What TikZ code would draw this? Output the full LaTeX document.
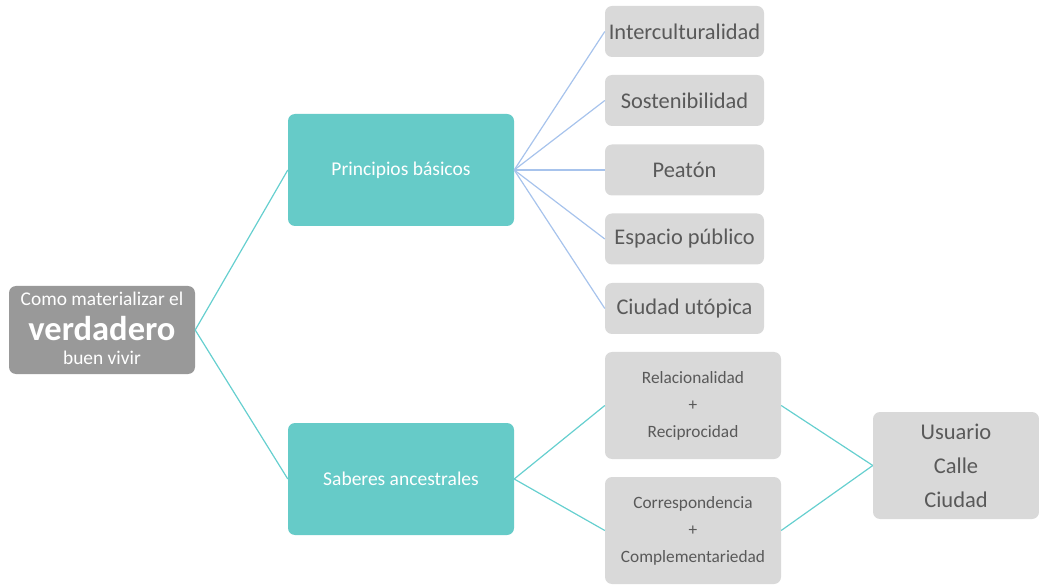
\documentclass[tikz,border=0pt]{standalone}
\usepackage{fontspec}
\setmainfont{Carlito}
\definecolor{teal1}{HTML}{66CBC8}
\definecolor{rootgray}{HTML}{999999}
\definecolor{boxgray}{HTML}{D9D9D9}
\definecolor{txtgray}{HTML}{595959}
\definecolor{blueline}{HTML}{A7C3EC}
\definecolor{tealline}{HTML}{66CFCF}
\tikzset{
  base/.style={rectangle, rounded corners=7pt, inner sep=0pt, align=center},
  rootbox/.style={base, fill=rootgray, minimum width=186pt, minimum height=88pt},
  roottext/.style={text=white, inner sep=0pt},
  midbox/.style={base, fill=teal1, text=white, minimum width=226pt, minimum height=112pt, font=\fontsize{19.5}{23}\selectfont},
  leafbox/.style={base, fill=boxgray, text=txtgray, minimum width=159pt, minimum height=51pt, font=\fontsize{22.4}{26}\selectfont},
  pairbox/.style={base, fill=boxgray, text=txtgray, minimum width=176pt, minimum height=107pt, font=\fontsize{17.3}{27}\selectfont},
  endbox/.style={base, fill=boxgray, text=txtgray, minimum width=166pt, minimum height=107pt, font=\fontsize{22.5}{34}\selectfont},
  tline/.style={draw=tealline, line width=1.2pt},
  bline/.style={draw=blueline, line width=1.2pt},
}
\begin{document}
\begin{tikzpicture}[x=1pt,y=-1pt]
\useasboundingbox (0,0) rectangle (1039,585);
\node[rootbox] (root) at (102,330) {};
\node[roottext, font=\fontsize{19.4}{23}\selectfont] (rt1) at (102,299) {Como materializar el};
\node[roottext, font=\fontsize{34.5}{40}\selectfont\bfseries] (rt2) at (102,329) {verdadero};
\node[roottext, font=\fontsize{19.4}{23}\selectfont] (rt3) at (102,358) {buen vivir};
\node[midbox] (pb) at (401,170) {Principios básicos};
\node[midbox] (sa) at (401,479) {Saberes ancestrales};
\node[leafbox] (l1) at (684.5,31.5) {Interculturalidad};
\node[leafbox] (l2) at (684.5,100.5) {Sostenibilidad};
\node[leafbox] (l3) at (684.5,170) {Peatón};
\node[leafbox] (l4) at (684.5,239) {Espacio público};
\node[leafbox] (l5) at (684.5,308.5) {Ciudad utópica};
\node[pairbox] (p1) at (693,405.5) {Relacionalidad\\+\\Reciprocidad};
\node[pairbox] (p2) at (693,530.5) {Correspondencia\\+\\Complementariedad};
\node[endbox] (u) at (956,465.5) {Usuario\\Calle\\Ciudad};
\draw[tline] (root.east) -- (pb.west);
\draw[tline] (root.east) -- (sa.west);
\foreach \n in {l1,l2,l3,l4,l5} {\draw[bline] (pb.east) -- (\n.west);}
\draw[tline] (sa.east) -- (p1.west);
\draw[tline] (sa.east) -- (p2.west);
\draw[tline] (p1.east) -- (u.west);
\draw[tline] (p2.east) -- (u.west);
\end{tikzpicture}
\end{document}
